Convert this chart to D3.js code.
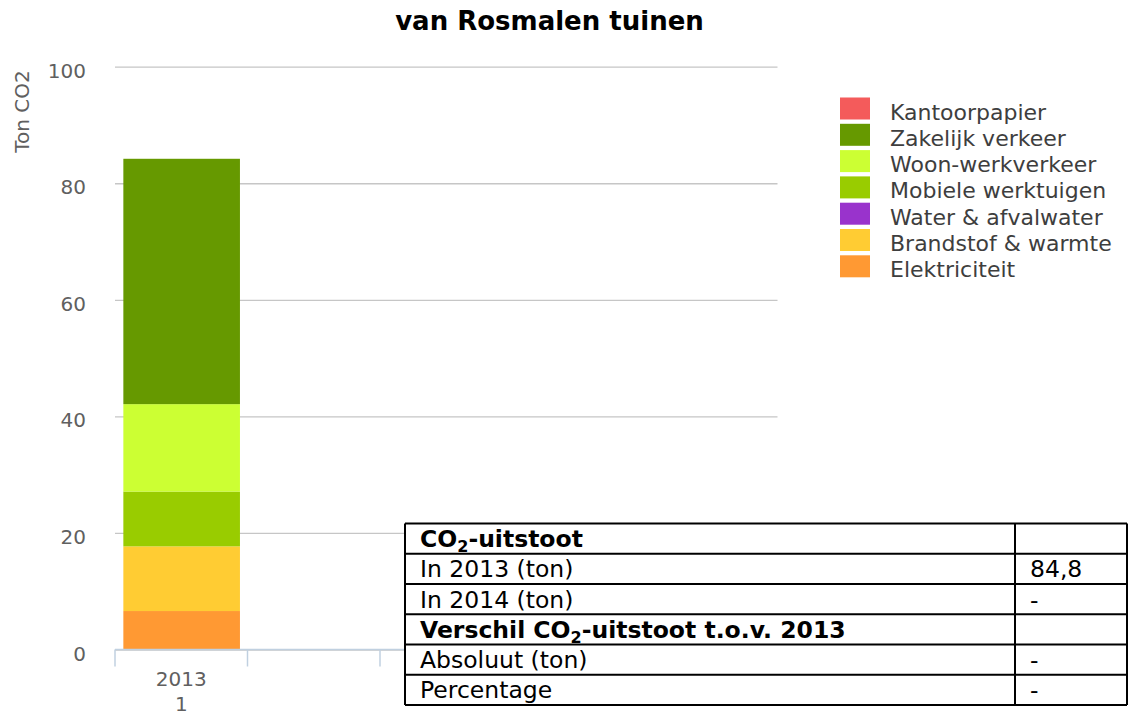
<!DOCTYPE html>
<html>
<head>
<meta charset="utf-8">
<script src="https://cdn.jsdelivr.net/npm/d3@7"></script>
<style>
  html, body { margin: 0; padding: 0; background: #fff; }
  svg { display: block; font-family: "DejaVu Sans", Verdana, sans-serif; }
</style>
</head>
<body>
<svg id="chart" width="1128" height="715"></svg>
<script>
// ---------- data ----------
const chartTitle = "van Rosmalen tuinen";
const yAxisTitle = "Ton CO2";
const categories = ["2013", "", "", "", ""];
const categorySub = ["1", "", "", "", ""];
const yTicks = [0, 20, 40, 60, 80, 100];

// legend order (top of stack first)
const seriesNames = ["Kantoorpapier", "Zakelijk verkeer", "Woon-werkverkeer",
  "Mobiele werktuigen", "Water & afvalwater", "Brandstof & warmte", "Elektriciteit"];
const seriesColors = ["#f45b5b", "#669900", "#ccff33", "#99cc00", "#9933cc", "#ffcc33", "#ff9933"];

const kantoorpapier     = [0,    0, 0, 0, 0];
const zakelijkVerkeer   = [42.1, 0, 0, 0, 0];
const woonWerkverkeer   = [15.0, 0, 0, 0, 0];
const mobieleWerktuigen = [9.4,  0, 0, 0, 0];
const waterAfvalwater   = [0,    0, 0, 0, 0];
const brandstofWarmte   = [11.1, 0, 0, 0, 0];
const elektriciteit     = [6.6,  0, 0, 0, 0];
const seriesValues = [kantoorpapier, zakelijkVerkeer, woonWerkverkeer,
  mobieleWerktuigen, waterAfvalwater, brandstofWarmte, elektriciteit];

// overlaid table
const tableLabels = [["CO", "2", "-uitstoot"], ["In 2013 (ton)"], ["In 2014 (ton)"],
  ["Verschil CO", "2", "-uitstoot t.o.v. 2013"], ["Absoluut (ton)"], ["Percentage"]];
const tableValues = ["", "84,8", "-", "", "-", "-"];
const tableBold = [true, false, false, true, false, false];

// ---------- layout ----------
const svg = d3.select("#chart");
const plot = { left: 115, right: 777.5, top: 66.7, bottom: 649.5 };

const y = d3.scaleLinear().domain([0, 100]).range([plot.bottom, plot.top]);
const x = d3.scaleBand().domain(d3.range(categories.length))
  .range([plot.left, plot.right]).padding(0);
const step = x.step();

// rows for stacking
const rows = categories.map((c, i) => {
  const r = { idx: i };
  seriesNames.forEach((n, s) => r[n] = seriesValues[s][i]);
  return r;
});
const stackKeys = seriesNames.slice().reverse(); // bottom to top
const stacked = d3.stack().keys(stackKeys)(rows);
const colorOf = d3.scaleOrdinal().domain(seriesNames).range(seriesColors);

// title
svg.append("text")
  .attr("x", 549.5).attr("y", 30)
  .attr("text-anchor", "middle")
  .style("font-size", "26px").style("font-weight", "bold").style("fill", "#000")
  .text(chartTitle);

// gridlines
const grid = svg.append("g").attr("transform", `translate(${plot.left},0)`)
  .call(d3.axisLeft(y).tickValues(yTicks).tickSize(-(plot.right - plot.left)).tickFormat(""));
grid.select(".domain").remove();
grid.selectAll("line").attr("stroke", "#c6c6c6").attr("stroke-width", 1.3);

// y labels
const yAx = svg.append("g").attr("transform", `translate(${plot.left},0)`)
  .call(d3.axisLeft(y).tickValues(yTicks).tickSize(0).tickPadding(29));
yAx.select(".domain").remove();
yAx.selectAll("text")
  .attr("dy", "0.53em")
  .style("font-size", "20px").style("fill", "#606060")
  .style("font-family", "DejaVu Sans, sans-serif");

// y axis title
svg.append("text")
  .attr("transform", "translate(29,111.5) rotate(-90)")
  .attr("text-anchor", "middle")
  .style("font-size", "20px").style("fill", "#606060")
  .text(yAxisTitle);

// bars
svg.append("g").selectAll("g").data(stacked).join("g")
  .attr("fill", d => colorOf(d.key))
  .selectAll("rect").data(d => d).join("rect")
  .attr("x", (d, i) => x(i) + step * 0.063)
  .attr("width", step * 0.88)
  .attr("y", d => y(d[1]))
  .attr("height", d => Math.max(0, y(d[0]) - y(d[1])));

// x axis line and ticks
svg.append("line")
  .attr("x1", plot.left).attr("x2", plot.right)
  .attr("y1", plot.bottom).attr("y2", plot.bottom)
  .attr("stroke", "#c0d0e0").attr("stroke-width", 1.5);
const tickXs = d3.range(categories.length + 1).map(i => plot.left + i * step);
svg.append("g").selectAll("line").data(tickXs).join("line")
  .attr("x1", d => d).attr("x2", d => d)
  .attr("y1", plot.bottom).attr("y2", plot.bottom + 17)
  .attr("stroke", "#c0d0e0").attr("stroke-width", 1.5);

// x labels
const xl = svg.append("g").selectAll("text").data(categories).join("text")
  .attr("text-anchor", "middle")
  .style("font-size", "20px").style("fill", "#606060");
xl.append("tspan").attr("x", (d, i) => x(i) + step / 2).attr("y", 686).text(d => d);
xl.append("tspan").attr("x", (d, i) => x(i) + step / 2).attr("y", 711).text((d, i) => categorySub[i]);

// legend
const lg = svg.append("g").selectAll("g").data(seriesNames).join("g")
  .attr("transform", (d, i) => `translate(840,${97.5 + i * 26.3})`);
lg.append("rect").attr("width", 30).attr("height", 22).attr("fill", d => colorOf(d));
lg.append("text").attr("x", 50).attr("y", 22)
  .style("font-size", "22px").style("fill", "#3e3e3e")
  .text(d => d);

// table overlay
const T = { left: 405, right: 1127, split: 1015, top: 523.5, rowH: 30.25 };
const tg = svg.append("g");
tg.append("rect")
  .attr("x", T.left).attr("y", T.top)
  .attr("width", T.right - T.left).attr("height", T.rowH * tableLabels.length)
  .attr("fill", "#fff");
const rowYs = d3.range(tableLabels.length + 1).map(i => T.top + i * T.rowH);
tg.selectAll("line.h").data(rowYs).join("line").attr("class", "h")
  .attr("x1", T.left).attr("x2", T.right).attr("y1", d => d).attr("y2", d => d)
  .attr("stroke", "#000").attr("stroke-width", 2);
tg.selectAll("line.v").data([T.left, T.split, T.right]).join("line").attr("class", "v")
  .attr("x1", d => d).attr("x2", d => d)
  .attr("y1", T.top).attr("y2", T.top + T.rowH * tableLabels.length)
  .attr("stroke", "#000").attr("stroke-width", 2);

const lt = tg.selectAll("text.lab").data(tableLabels).join("text").attr("class", "lab")
  .attr("x", T.left + 15)
  .attr("y", (d, i) => T.top + i * T.rowH + 23.7)
  .style("font-size", "23.5px").style("fill", "#000")
  .style("font-weight", (d, i) => tableBold[i] ? "bold" : "normal");
lt.each(function (parts) {
  const t = d3.select(this);
  if (parts.length === 1) { t.text(parts[0]); return; }
  t.append("tspan").text(parts[0]);
  t.append("tspan").attr("dy", 5).style("font-size", "16px").text(parts[1]);
  t.append("tspan").attr("dy", -5).text(parts[2]);
});
tg.selectAll("text.val").data(tableValues).join("text").attr("class", "val")
  .attr("x", T.split + 15)
  .attr("y", (d, i) => T.top + i * T.rowH + 23.7)
  .style("font-size", "23.5px").style("fill", "#000")
  .text(d => d);
</script>
</body>
</html>
